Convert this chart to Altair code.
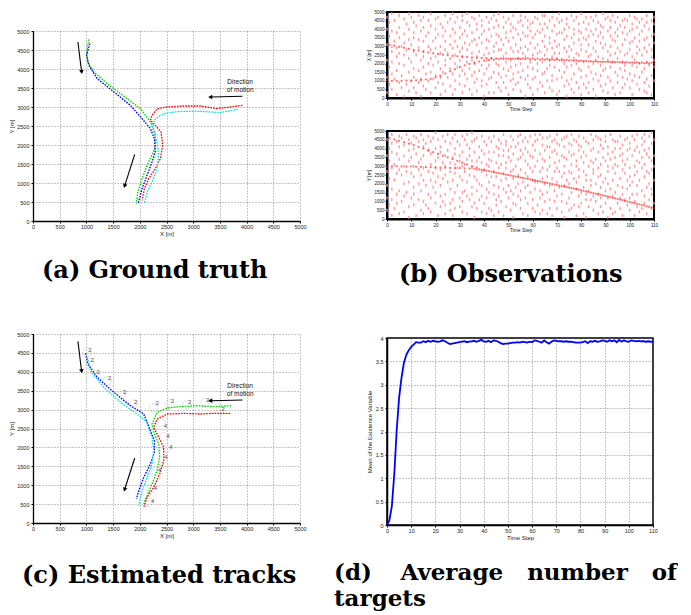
import altair as alt
import pandas as pd

# ---------------- (a) ground truth tracks (metres) ----------------
gt_green_x = [1046, 1003, 1027, 1140, 1389, 1762, 2011, 2198, 2291, 2291, 2229, 2136, 2042, 1962, 1937]
gt_green_y = [4781, 4447, 4184, 3921, 3614, 3219, 2956, 2605, 2298, 1947, 1728, 1465, 1114, 763, 456]
gt_blue_x = [1065, 1003, 1046, 1202, 1513, 1824, 2042, 2198, 2273, 2291, 2229, 2136, 2042, 1968]
gt_blue_y = [4667, 4360, 4097, 3745, 3395, 3044, 2693, 2430, 2167, 1816, 1553, 1202, 851, 456]
gt_red_x = [3923, 3444, 3132, 2821, 2509, 2323, 2229, 2198, 2291, 2397, 2428, 2385, 2291, 2167, 2086, 2042]
gt_red_y = [3044, 2956, 3026, 3026, 3000, 2956, 2781, 2649, 2518, 2342, 1991, 1640, 1377, 1114, 851, 544]
gt_cyan_x = [3836, 3506, 3132, 2759, 2447, 2291, 2229, 2260, 2323, 2354, 2323, 2229, 2136, 2086]
gt_cyan_y = [2939, 2851, 2886, 2886, 2825, 2693, 2518, 2342, 2079, 1728, 1377, 1026, 763, 456]

arrow_a_x1 = [841, 1905, 3923]
arrow_a_y1 = [4711, 1754, 3281]
arrow_a_x2 = [909, 1719, 3331]
arrow_a_y2 = [3939, 939, 3263]
arrow_angle = [173, 198, 270]
note_a_x = [3879, 3879]
note_a_y = [3658, 3456]
note_text = ["Direction", "of motion"]

# ---------------- (c) estimated tracks ----------------
est_blue_x = [984, 1027, 1202, 1513, 1824, 2074, 2198, 2273, 2273, 2198, 2074, 1980, 1937]
est_blue_y = [4488, 4206, 3853, 3457, 3104, 2883, 2443, 2178, 1869, 1561, 1208, 855, 635]
est_cyan_x = [1015, 1077, 1326, 1638, 1949, 2136, 2229, 2260, 2229, 2136, 2042, 1980]
est_cyan_y = [4382, 4030, 3589, 3192, 2883, 2663, 2266, 1913, 1561, 1208, 855, 459]
est_green_x = [3711, 3381, 3070, 2759, 2509, 2323, 2229, 2273, 2354, 2373, 2323, 2229, 2136, 2074]
est_green_y = [3104, 3077, 3104, 3077, 3042, 2928, 2619, 2354, 2090, 1737, 1384, 1032, 723, 503]
est_red_x = [3692, 3381, 3132, 2821, 2509, 2323, 2260, 2354, 2447, 2447, 2373, 2260, 2136, 2074]
est_red_y = [2901, 2901, 2883, 2901, 2883, 2751, 2531, 2266, 2002, 1649, 1296, 944, 679, 414]

lab_x = [1065, 1108, 1220, 1438, 1719, 1924, 2323, 2609, 2933, 3269, 3556,
         2478, 2528, 2584, 2491, 2373, 2291, 2242]
lab_y = [4577, 4312, 3986, 3827, 3466, 3210, 3166, 3236, 3210, 3263, 3016,
         2575, 2302, 2002, 1737, 1411, 926, 591]
lab_t = ["2"] * 11 + ["4"] * 7
ell_x = [1010, 1060, 1170, 1390, 1660, 1880, 2250, 2560, 2880, 3220, 3500,
         2400, 2440, 2500, 2420, 2300, 2200, 2160]
ell_y = [4520, 4250, 3930, 3760, 3400, 3150, 3050, 3150, 3140, 3180, 2980,
         2650, 2280, 1980, 1700, 1370, 900, 560]

arrow_c_x1 = [841, 1905, 3923]
arrow_c_y1 = [4806, 1720, 3254]
arrow_c_x2 = [909, 1719, 3331]
arrow_c_y2 = [4030, 900, 3236]
note_c_x = [3879, 3879]
note_c_y = [3633, 3413]

# ---------------- (b) observations ----------------
obsx_a_t = list(range(0, 111, 2))
obsx_a_v = [1000, 1000, 980, 1000, 1020, 1000, 1030, 1050, 1080, 1120, 1200, 1300, 1420, 1550,
            1680, 1800, 1900, 1980, 2050, 2120, 2170, 2200, 2230, 2250, 2270, 2280, 2290, 2300,
            2300, 2310, 2300, 2290, 2280, 2270, 2260, 2250, 2240, 2220, 2200, 2190, 2170, 2160,
            2140, 2130, 2110, 2100, 2090, 2080, 2070, 2060, 2050, 2040, 2030, 2020, 2010, 2000]
obsx_b_t = list(range(1, 111, 2))
obsx_b_v = [3100, 3050, 2980, 2920, 2860, 2800, 2750, 2700, 2650, 2600, 2560, 2520, 2480, 2450,
            2420, 2400, 2380, 2360, 2340, 2330, 2320, 2310, 2300, 2300, 2290, 2290, 2280, 2270,
            2260, 2250, 2240, 2230, 2220, 2210, 2200, 2190, 2180, 2170, 2160, 2150, 2140, 2130,
            2120, 2110, 2100, 2100, 2090, 2090, 2080, 2080, 2070, 2070, 2060, 2060, 2050]
obsy_c_t = list(range(0, 111, 2))
obsy_c_v = [2980, 2990, 3000, 2990, 2980, 2990, 2970, 2960, 2950, 2940, 2930, 2920, 2910, 2900,
            2900, 2890, 2880, 2870, 2860, 2820, 2770, 2720, 2660, 2600, 2550, 2500, 2440, 2390,
            2330, 2280, 2220, 2160, 2110, 2050, 1990, 1930, 1870, 1810, 1760, 1700, 1640, 1570,
            1500, 1440, 1380, 1310, 1240, 1170, 1100, 1030, 970, 900, 830, 760, 690, 620]
obsy_d_t = list(range(1, 111, 2))
obsy_d_v = [4600, 4520, 4440, 4360, 4280, 4200, 4100, 4000, 3900, 3800, 3700, 3600, 3500, 3400,
            3300, 3200, 3100, 3000, 2920, 2800, 2750, 2690, 2630, 2580, 2520, 2470, 2410, 2360,
            2300, 2250, 2190, 2140, 2080, 2020, 1960, 1900, 1840, 1780, 1730, 1670, 1600, 1540,
            1470, 1410, 1340, 1280, 1200, 1140, 1070, 1000, 930, 860, 790, 720, 650]

# clutter, "time:values (hundreds of metres)"
clutter_b1 = """0:47,3,22,31,12,40 1:18,36,8,44 2:27,5,39,14,49,30,21 3:11,33,45 4:2,24,38,16,29
5:41,9,20,35,48,26 6:13,30,6 7:37,19,46,25,1,32 8:8,43,28 9:23,15,40,4,34,49 10:31,10,47,21
11:6,38,17,27,44,12,35 12:42,25,3 13:16,34,48,9,29 14:39,22,1,45,11 15:27,7,33,41,18,47,24
16:14,36,5 17:45,20,30,10,38 18:3,28,49,15,42,23 19:33,11,19 20:24,40,6,35,13,46,29
21:9,47,21,37 22:30,2,17,43,26,12 23:41,15,36,8 24:19,28,48,4,33,22,39 25:12,44,26
26:36,7,23,31,46,17 27:2,40,14,29,49 28:25,10,38,20,44,5,33 29:47,18,30 30:8,35,22,13,41,27
31:29,3,45,16,37,24,48 32:14,39,7,32 33:44,21,28,11,49,36 34:5,31,17,42 35:38,13,26,47,2,22,33
36:20,46,9,34,15 37:31,4,40,24,11,43 38:16,35,48,27 39:42,7,19,32,45,10,37 40:25,1,39,14
41:34,47,22,8,29,17 42:11,40,3,26,44,33,19 43:46,23,36,12 44:3,30,15,41,27,48 45:37,9,45,20,32
46:19,42,6,28,14,36,49 47:28,12,34,4 48:41,24,17,47,9,31 49:6,38,21,44,13,26,35 50:33,2,46,16
51:22,39,10,29,43,18 52:14,48,27,5,35,41,11 53:40,19,31,8 54:9,27,44,15,37,23
55:45,4,34,20,12,48,29 56:26,38,16,42 57:1,30,47,11,24,36 58:36,18,8,41,28,45,13 59:21,43,32,6,39
60:44,11,25,35,17,2 61:12,37,47,29 62:39,5,20,31,46,16,26 63:27,43,9,38 64:7,33,21,48,14,40
65:48,15,36,25,3,30,43 66:17,41,28,10 67:35,22,45,6,32,19 68:10,29,4,39,47,24,13 69:42,18,33,26
70:23,46,11,37,2,30 71:4,31,44,16,26,38,49 72:38,12,22,45 73:15,40,7,29,34,20
74:46,27,36,1,18,43,10 75:30,8,41,24 76:11,35,19,48,28,5 77:37,23,3,32,45,14,40 78:20,47,26,9
79:43,6,34,17,39,25 80:28,16,49,38,2,31,12 81:8,44,21,35 82:34,13,40,27,6,47
83:18,31,3,43,24,36,9 84:47,25,15,39 85:5,37,29,11,45,20 86:40,22,48,14,33,1,27 87:24,10,36,44
88:13,42,19,32,7,38 89:49,29,4,23,41,16,35 90:31,17,46,8 91:3,27,39,22,47,12
92:36,10,30,45,18,41,25 93:21,48,6,34 94:44,15,33,26,2,38 95:9,40,23,47,29,13,36 96:27,3,42,17
97:38,21,12,45,31,6 98:16,34,46,8,25,41,19 99:45,26,11,37 100:6,39,28,48,14,32
101:33,19,43,2,24,40,10 102:22,47,13,35 103:41,8,30,18,46,26 104:12,37,20,44,5,33,28
105:46,25,39,15 106:29,4,17,42,34,9 107:35,21,48,27,11,44,3 108:7,40,31,19 109:24,13,45,36,2,28
110:43,18,32,10,47,22,37"""
clutter_b2 = """0:12,36,45,5,27,19 1:40,23,8,33 2:17,48,29,2,38,11,43 3:31,6,22 4:44,14,37,26,9
5:3,28,41,16,47,34 6:25,10,46 7:36,20,4,42,30,13 8:15,48,27 9:39,7,33,21,45,1 10:26,43,12,35
11:8,30,18,47,24,40,14 12:46,2,37 13:20,32,11,44,28 14:34,5,25,48,16 15:10,41,29,3,36,22,45
16:43,19,8 17:6,27,39,14,47 18:37,12,31,22,4,44 19:18,46,26 20:29,9,40,15,33,49,21
21:2,35,24,45 22:41,13,28,7,38,19 23:23,47,10,32 24:14,3,36,25,44,8,30 25:48,21,39
26:9,32,17,43,27,5 27:35,11,46,22,2 28:26,40,6,31,15,48,37 29:19,29,44 30:42,7,24,36,12,33
31:4,38,15,47,22,30,10 32:31,16,45,27 33:13,42,3,34,21,48 34:36,25,11,40
35:7,29,49,18,33,44,14 36:45,1,24,38,9 37:22,33,16,46,6,28 38:11,41,35,20
39:39,4,27,13,47,32,19 40:28,44,9,37 41:17,31,3,42,25,12 42:46,21,38,6,34,15,30 43:5,33,24,44
44:38,14,47,27,19,2 45:24,8,32,41,11 46:13,45,29,18,36,4,40 47:43,22,10,31 48:2,36,48,17,26,39
49:32,15,42,7,23,44,29 50:19,39,12,35 51:47,27,5,41,16,33 52:9,23,37,45,1,28,14 53:41,30,18,8
54:25,47,34,13,43,20 55:16,6,28,39,48,11,35 56:37,21,44,3 57:12,40,26,33,18,46
58:44,9,31,19,38,2,24 59:29,47,15,36 60:6,35,22,42,11,27 61:39,17,48,30,4,21,44 62:21,33,8,45
63:48,12,27,37,16,3 64:14,42,5,23,34,46,29 65:33,20,39,10 66:3,46,28,15,41,24
67:41,11,35,19,6,47,30 68:23,38,2,44 69:10,27,45,16,32,39 70:37,6,21,48,13,29,43 71:27,42,18,33
72:45,14,36,4,24,10 73:1,30,19,41,46,26,35 74:34,9,47,22 75:20,43,12,38,27,5
76:42,26,6,31,15,48,36 77:8,37,23,45 78:30,17,44,2,33,21 79:47,24,13,39,7,28,42 80:15,35,41,9
81:38,3,27,46,18,32 82:25,44,11,36,22,1,14 83:43,16,30,7 84:11,39,22,48,33,19
85:32,5,45,26,13,40,28 86:20,47,34,10 87:46,14,29,38,3,24 88:7,31,42,18,45,25,12 89:35,21,4,40
90:23,44,16,33,9,47 91:41,12,37,27,1,30,20 92:17,48,6,34 93:29,38,22,45,13,3
94:4,26,40,15,35,44,31 95:44,9,30,19 96:12,36,47,23,6,40 97:37,2,18,42,28,14,33 98:26,45,11,31
99:8,34,22,46,17,39 100:40,19,29,5,43,24,12 101:21,47,36,14 102:45,10,25,39,2,30
103:14,33,41,7,27,48,19 104:32,22,4,38 105:6,42,29,16,46,35 106:39,13,48,24,9,31,44
107:18,27,3,37 108:47,35,20,11,40,26 109:28,6,43,17,33,49,14 110:36,22,9,45,30"""

# ---------------- (d) average number of targets ----------------
avg_t = list(range(0, 111))
avg_v = [0, 0.1, 0.4, 1.08, 2.02, 2.72, 3.15, 3.47, 3.64, 3.74, 3.81, 3.86, 3.91, 3.9, 3.9,
         3.93, 3.91, 3.94, 3.92, 3.94, 3.93, 3.92, 3.93, 3.95, 3.93, 3.9, 3.87, 3.88, 3.89, 3.9,
         3.91, 3.92, 3.93, 3.91, 3.92, 3.93, 3.94, 3.92, 3.94, 3.96, 3.93, 3.92, 3.94, 3.91, 3.95,
         3.94, 3.92, 3.89, 3.87, 3.88, 3.88, 3.89, 3.9, 3.9, 3.91, 3.9, 3.92, 3.91, 3.9, 3.92,
         3.91, 3.95, 3.94, 3.92, 3.9, 3.95, 3.91, 3.88, 3.92, 3.95, 3.94, 3.93, 3.93, 3.92, 3.93,
         3.92, 3.92, 3.91, 3.9, 3.9, 3.9, 3.91, 3.93, 3.89, 3.93, 3.92, 3.94, 3.92, 3.93, 3.95,
         3.94, 3.92, 3.95, 3.93, 3.95, 3.91, 3.96, 3.92, 3.95, 3.93, 3.92, 3.95, 3.94, 3.93, 3.94,
         3.93, 3.93, 3.92, 3.93, 3.92, 3.92]

# ======================================================================
SANS = "Liberation Sans"
SERIF = "DejaVu Serif"
NB = "\u00a0"
TH = "\u2009"
track_domain = ["green", "blue", "red", "cyan"]
track_range = ["#00d800", "#0000ff", "#ff0000", "#00e0e0"]


def tracks_df(series):
    rows = []
    for name, xs, ys in series:
        for i, (x, y) in enumerate(zip(xs, ys)):
            rows.append({"track": name, "i": i, "x": x, "y": y})
    return pd.DataFrame(rows)


def parse_clutter(s):
    rows = []
    for grp in s.split():
        t, vals = grp.split(":")
        for v in vals.split(","):
            rows.append({"t": int(t), "v": int(v) * 100})
    return pd.DataFrame(rows)


def axis_common(**kw):
    base = dict(labelFont=SANS, labelFontSize=5.5, labelColor="#222", labelOverlap=False,
                labelFlush=False, titleFont=SANS, titleFontSize=6, titleFontWeight="normal",
                titleColor="#222", domainColor="black", tickColor="black", tickSize=2)
    base.update(kw)
    return alt.Axis(**base)


def caption(text, dx, offset, size=24, lh=24):
    return alt.TitleParams(text=text, orient="bottom", anchor="start", frame="group", dx=dx,
                           offset=offset, font=SERIF, fontSize=size, fontWeight="bold",
                           color="black", lineHeight=lh)


def track_panel(df, ax1, ay1, ax2, ay2, nx, ny, height, extra_fn, cap_text, cap_dx, cap_off):
    xs = alt.Scale(domain=[0, 5000], nice=False, zero=False)
    ys = alt.Scale(domain=[0, 5000], nice=False, zero=False)
    ticks = list(range(0, 5001, 500))
    gridkw = dict(grid=True, gridDash=[1, 2], gridColor="#444", gridWidth=0.6, domainWidth=1.3)
    xax = axis_common(title="X [m]", values=ticks, format="d", labelPadding=1, titlePadding=1, **gridkw)
    yax = axis_common(title="Y [m]", values=ticks, format="d", labelPadding=2, titlePadding=2, **gridkw)

    def X(f):
        return alt.X(f, scale=xs, axis=xax)

    def Y(f):
        return alt.Y(f, scale=ys, axis=yax)

    lines = alt.Chart(df).mark_line(strokeDash=[1.6, 1.2], strokeWidth=1.3).encode(
        x=X("x:Q"), y=Y("y:Q"),
        color=alt.Color("track:N", scale=alt.Scale(domain=track_domain, range=track_range), legend=None),
        detail="track:N",
        order="i:Q",
    )
    adf = pd.DataFrame({"x1": ax1, "y1": ay1, "x2": ax2, "y2": ay2, "ang": arrow_angle})
    shafts = alt.Chart(adf).mark_rule(color="black", strokeWidth=1.1).encode(
        x=X("x1:Q"), y=Y("y1:Q"), x2="x2:Q", y2="y2:Q")
    heads = alt.Chart(adf).mark_point(shape="triangle", filled=True, color="black", size=22,
                                      opacity=1).encode(
        x=X("x2:Q"), y=Y("y2:Q"), angle=alt.Angle("ang:Q", scale=None))
    ndf = pd.DataFrame({"x": nx, "y": ny, "t": note_text})
    notes = alt.Chart(ndf).mark_text(font=SANS, fontSize=6.5, color="#111").encode(
        x=X("x:Q"), y=Y("y:Q"), text="t:N")
    layers = [lines] + extra_fn(X, Y) + [shafts, heads, notes]
    return alt.layer(*layers).properties(
        width=267, height=height,
        view=alt.ViewBackground(stroke="transparent"),
        title=caption(cap_text, cap_dx, cap_off),
    )


# ---- (a)
df_a = tracks_df([("green", gt_green_x, gt_green_y), ("blue", gt_blue_x, gt_blue_y),
                  ("red", gt_red_x, gt_red_y), ("cyan", gt_cyan_x, gt_cyan_y)])
panel_a = track_panel(df_a, arrow_a_x1, arrow_a_y1, arrow_a_x2, arrow_a_y2, note_a_x, note_a_y,
                      190, lambda X, Y: [], "(a) Ground truth", 9, 22)

# ---- (c)
df_c = tracks_df([("blue", est_blue_x, est_blue_y), ("cyan", est_cyan_x, est_cyan_y),
                  ("green", est_green_x, est_green_y), ("red", est_red_x, est_red_y)])


def c_extra(X, Y):
    edf = pd.DataFrame({"x": ell_x, "y": ell_y})
    ells = alt.Chart(edf).mark_point(shape="circle", filled=False, size=70, color="#888",
                                     strokeWidth=0.6, strokeDash=[1, 1]).encode(x=X("x:Q"), y=Y("y:Q"))
    ldf = pd.DataFrame({"x": lab_x, "y": lab_y, "t": lab_t})
    labs = alt.Chart(ldf).mark_text(font=SANS, fontSize=6, color="#555").encode(
        x=X("x:Q"), y=Y("y:Q"), text="t:N")
    return [ells, labs]


panel_c = track_panel(df_c, arrow_c_x1, arrow_c_y1, arrow_c_x2, arrow_c_y2, note_c_x, note_c_y,
                      189, c_extra, "(c) Estimated tracks", -11, 25)


# ---- (b)
def obs_panel(clutter, tA, vA, tB, vB, ytitle, height, cap=None):
    xs = alt.Scale(domain=[0, 110], nice=False, zero=False)
    ys = alt.Scale(domain=[0, 5000], nice=False, zero=False)
    xax = axis_common(title="Time Step", values=list(range(0, 111, 10)), labelFontSize=4.5,
                      titleFontSize=5, labelPadding=1, titlePadding=1, domainWidth=2, grid=False)
    yax = axis_common(title=ytitle, values=list(range(0, 5001, 500)), format="d", labelFontSize=4.5,
                      titleFontSize=5, labelPadding=1, titlePadding=2, domainWidth=2, grid=False)
    cdf = parse_clutter(clutter)
    clut = alt.Chart(cdf).mark_tick(orient="vertical", size=3, thickness=1.4, color="#ff8f8f",
                                    opacity=0.9).encode(
        x=alt.X("t:Q", scale=xs, axis=xax), y=alt.Y("v:Q", scale=ys, axis=yax))
    tdf = pd.DataFrame({"t": tA + tB, "v": vA + vB})
    targ = alt.Chart(tdf).mark_square(size=3.5, color="#ff1a1a", opacity=0.65).encode(
        x=alt.X("t:Q", scale=xs, axis=xax), y=alt.Y("v:Q", scale=ys, axis=yax))
    props = dict(width=267, height=height, view=alt.ViewBackground(stroke="black", strokeWidth=2))
    if cap is not None:
        props["title"] = cap
    return alt.layer(clut, targ).properties(**props)


panel_b1 = obs_panel(clutter_b1, obsx_a_t, obsx_a_v, obsx_b_t, obsx_b_v, "X [m]", 86)
panel_b2 = obs_panel(clutter_b2, obsy_c_t, obsy_c_v, obsy_d_t, obsy_d_v, "Y [m]", 88,
                     caption("(b) Observations", 12, 30))

# ---- (d)
ddf = pd.DataFrame({"t": avg_t, "v": avg_v})
gridkw = dict(grid=True, gridDash=[1, 2], gridColor="#444", gridWidth=0.6, domainWidth=1.5)
panel_d = alt.Chart(ddf).mark_line(color="#0000ff", strokeWidth=1.8).encode(
    x=alt.X("t:Q", scale=alt.Scale(domain=[0, 110], nice=False),
            axis=axis_common(title="Time Step", values=list(range(0, 111, 10)), labelPadding=1,
                             titlePadding=1, **gridkw)),
    y=alt.Y("v:Q", scale=alt.Scale(domain=[0, 4], nice=False),
            axis=axis_common(title="Mean of the Existence Variable",
                             values=[0, 0.5, 1, 1.5, 2, 2.5, 3, 3.5, 4], format="~g",
                             labelPadding=2, titlePadding=3, **gridkw)),
).properties(
    width=266, height=187,
    view=alt.ViewBackground(stroke="black", strokeWidth=1.5),
    title=caption(["(d)" + NB * 3 + TH + "Average" + NB * 3 + "number" + NB * 3 + "of",
                   "targets"], -53, 21, size=23, lh=26),
)


def spacer(h):
    return alt.Chart(pd.DataFrame({"v": [0]})).mark_point(size=0, opacity=0).encode(
        x=alt.value(0), y=alt.value(0)).properties(
        width=267, height=h, view=alt.ViewBackground(stroke="transparent"))


left = alt.vconcat(spacer(19), panel_a, spacer(113), panel_c, spacing=0, bounds="flush")
right = alt.vconcat(panel_b1, spacer(33), panel_b2, spacer(119), panel_d, spacing=0, bounds="flush")

chart = alt.hconcat(left, right, spacing=26).properties(
    padding={"left": 0, "top": 0, "right": 0, "bottom": 0}
).configure(background="white")

chart.save("out.html", embed_options={"renderer": "svg", "actions": False})
